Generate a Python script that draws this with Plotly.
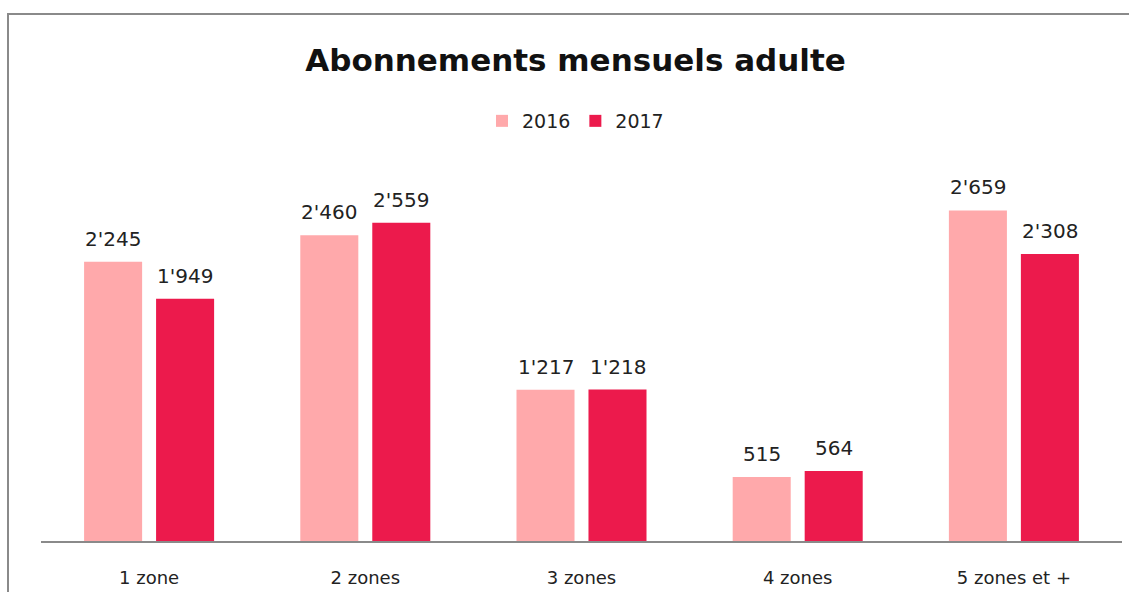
import plotly.graph_objects as go

categories = ["1 zone", "2 zones", "3 zones", "4 zones", "5 zones et +"]
values_2016 = [2245, 2460, 1217, 515, 2659]
values_2017 = [1949, 2559, 1218, 564, 2308]
series_names = ["2016", "2017"]
colors = ["#FFA9AB", "#EC1A4C"]

def fmt(v):
    return f"{v:,}".replace(",", "'")

W, H = 1129, 592
L, R, T, B = 41, 7, 168, 51
pw, ph = W - L - R, H - T - B

def px_x(x):
    return (x - L) / pw

def px_y(y):
    return (H - B - y) / ph

FONT = "DejaVu Sans"

fig = go.Figure()
annotations = []
for i, (name, vals, col) in enumerate(zip(series_names, [values_2016, values_2017], colors)):
    fig.add_trace(go.Bar(
        x=categories, y=vals, name=name, marker=dict(color=col, line=dict(width=0)),
        offsetgroup=str(i),
    ))

slot = (1 - 0.334) / 2
for i, vals in enumerate([values_2016, values_2017]):
    off = (-0.5 + i) * slot
    for j, v in enumerate(vals):
        annotations.append(dict(
            x=j + off, y=v, xref="x", yref="y", text=fmt(v), showarrow=False,
            yanchor="middle", yshift=23,
            font=dict(size=20, color="#222222", family=FONT),
        ))

fig.update_layout(
    width=W, height=H,
    margin=dict(l=L, r=R, t=T, b=B, pad=0, autoexpand=False),
    paper_bgcolor="white", plot_bgcolor="white",
    barmode="group", bargap=0.334, bargroupgap=0.194,
    font=dict(family=FONT, color="#222222"),
    title=dict(text="<b>Abonnements mensuels adulte</b>", x=575.5 / W, xanchor="center",
               xref="container", yref="container", y=1 - 60 / H, yanchor="middle",
               font=dict(size=31, color="#111111", family=FONT)),
    legend=dict(orientation="h", x=0.5 - 6 / pw, xanchor="center", y=px_y(121), yanchor="middle",
                font=dict(size=19, color="#222222", family=FONT), itemwidth=30,
                traceorder="normal"),
    showlegend=True,
    annotations=annotations,
    xaxis=dict(showline=True, linecolor="#8a8a8a", linewidth=2, ticks="",
               tickfont=dict(size=18, color="#222222", family=FONT), showgrid=False,
               ticklabelstandoff=19, automargin=False),
    yaxis=dict(range=[0, 3000], visible=False, showgrid=False, automargin=False),
    shapes=[
        dict(type="line", xref="paper", yref="paper", x0=px_x(7), x1=px_x(1129),
             y0=px_y(14), y1=px_y(14), line=dict(color="#8a8a8a", width=2)),
        dict(type="line", xref="paper", yref="paper", x0=px_x(8), x1=px_x(8),
             y0=px_y(13), y1=px_y(592), line=dict(color="#8a8a8a", width=2)),
    ],
)

fig.write_html("out.html")
